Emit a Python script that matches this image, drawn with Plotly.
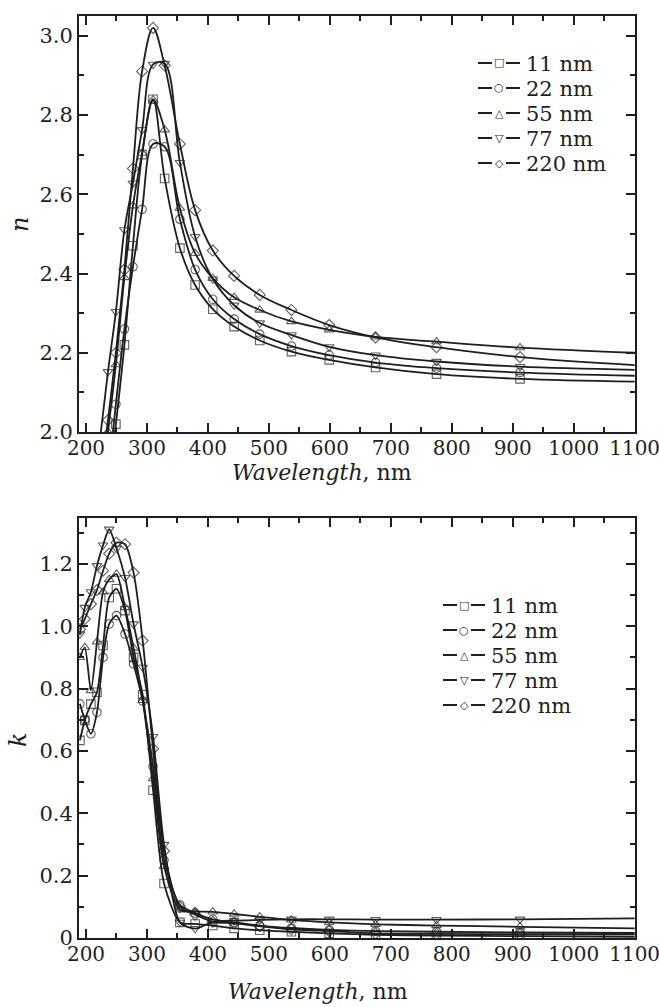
import plotly.graph_objects as go

# series labels and marker shapes
labels = ["11 nm", "22 nm", "55 nm", "77 nm", "220 nm"]
symbols = ["square-open", "circle-open", "triangle-up-open", "triangle-down-open", "diamond-open"]
legend_glyphs = ["□", "○", "△", "▽", "◇"]

# refractive index n vs wavelength (nm)
wl_n = [222, 236, 249, 263, 277, 292, 310, 329, 354, 379, 408, 443, 485, 537, 599, 675, 775, 912, 1100]
n_11 = [1.65, 1.85, 2.02, 2.22, 2.47, 2.70, 2.84, 2.64, 2.464, 2.371, 2.31, 2.266, 2.231, 2.203, 2.182, 2.163, 2.146, 2.134, 2.127]
n_22 = [1.70, 1.88, 2.07, 2.26, 2.417, 2.562, 2.727, 2.72, 2.537, 2.41, 2.335, 2.285, 2.247, 2.217, 2.194, 2.175, 2.161, 2.15, 2.142]
n_55 = [1.82, 2.00, 2.17, 2.39, 2.571, 2.704, 2.838, 2.763, 2.565, 2.451, 2.388, 2.34, 2.308, 2.279, 2.258, 2.24, 2.228, 2.213, 2.20]
n_77 = [1.97, 2.152, 2.304, 2.51, 2.628, 2.763, 2.928, 2.93, 2.68, 2.493, 2.386, 2.32, 2.275, 2.245, 2.215, 2.194, 2.178, 2.165, 2.157]
n_220 = [1.86, 2.03, 2.20, 2.41, 2.665, 2.91, 3.02, 2.925, 2.727, 2.56, 2.458, 2.394, 2.346, 2.308, 2.27, 2.239, 2.214, 2.189, 2.169]

# extinction coefficient k vs wavelength (nm), lower panel
wl_k = [190, 198, 208, 218, 228, 238, 250, 264, 278, 293, 310, 328, 354, 379, 408, 443, 485, 537, 599, 675, 775, 912, 1100]
k_11 = [0.634, 0.698, 0.75, 0.788, 0.938, 1.092, 1.12, 1.05, 0.90, 0.78, 0.474, 0.175, 0.05, 0.045, 0.04, 0.031, 0.025, 0.02, 0.015, 0.01, 0.008, 0.006, 0.004]
k_22 = [0.751, 0.70, 0.655, 0.724, 0.90, 1.007, 1.034, 0.975, 0.879, 0.76, 0.55, 0.25, 0.106, 0.08, 0.06, 0.05, 0.04, 0.032, 0.026, 0.022, 0.02, 0.018, 0.016]
k_55 = [0.90, 0.932, 0.794, 0.95, 1.11, 1.15, 1.167, 1.06, 0.93, 0.762, 0.511, 0.23, 0.09, 0.085, 0.084, 0.077, 0.068, 0.058, 0.05, 0.044, 0.04, 0.036, 0.031]
k_77 = [0.975, 1.06, 1.11, 1.194, 1.26, 1.311, 1.25, 1.156, 1.007, 0.868, 0.646, 0.30, 0.05, 0.03, 0.052, 0.056, 0.058, 0.06, 0.06, 0.059, 0.059, 0.06, 0.063]
k_220 = [0.99, 1.023, 1.071, 1.116, 1.178, 1.233, 1.268, 1.263, 1.172, 0.954, 0.607, 0.279, 0.10, 0.075, 0.052, 0.047, 0.038, 0.028, 0.022, 0.015, 0.013, 0.012, 0.012]

x_ticks = [200, 300, 400, 500, 600, 700, 800, 900, 1000, 1100]
n_ticks = [2.0, 2.2, 2.4, 2.6, 2.8, 3.0]
n_ticktext = ["2.0", "2.2", "2.4", "2.6", "2.8", "3.0"]
k_ticks = [0, 0.2, 0.4, 0.6, 0.8, 1.0, 1.2]
k_ticktext = ["0", "0.2", "0.4", "0.6", "0.8", "1.0", "1.2"]

FONT = "DejaVu Serif"
INK = "#1e1e1e"
x_range = [188.5, 1100.6]
n_range = [2.0, 3.05]
k_range = [0, 1.347]


def marker_sizes(wl, vals, lo):
    # last point only ends the line; points under the axis are hidden
    return [0 if (w == wl[-1] or v < lo) else 8.5 for w, v in zip(wl, vals)]


fig = go.Figure()

for lab, sym, vals in zip(labels, symbols, [n_11, n_22, n_55, n_77, n_220]):
    fig.add_trace(go.Scatter(
        x=wl_n, y=vals, name=lab, mode="lines+markers",
        line=dict(color=INK, width=1.8, shape="spline", smoothing=1.0),
        marker=dict(symbol=sym, size=marker_sizes(wl_n, vals, n_range[0]), color=INK,
                    line=dict(width=1.1, color=INK)),
        xaxis="x", yaxis="y", showlegend=False,
    ))

for lab, sym, vals in zip(labels, symbols, [k_11, k_22, k_55, k_77, k_220]):
    fig.add_trace(go.Scatter(
        x=wl_k, y=vals, name=lab, mode="lines+markers",
        line=dict(color=INK, width=1.8, shape="spline", smoothing=0.7),
        marker=dict(symbol=sym, size=marker_sizes(wl_k, vals, k_range[0] - 1), color=INK,
                    line=dict(width=1.1, color=INK)),
        xaxis="x2", yaxis="y2", showlegend=False,
    ))

axis_common = dict(
    showline=True, linecolor=INK, linewidth=2, mirror="allticks",
    ticks="inside", ticklen=9, tickwidth=1.5, tickcolor=INK,
    showgrid=False, zeroline=False, automargin=False,
    tickfont=dict(family=FONT, size=21, color=INK),
)
x_common = dict(axis_common, domain=[0, 1], range=x_range, tickvals=x_ticks,
                ticklabeloverflow="allow", ticklabelstandoff=-3,
                tickfont=dict(family=FONT, size=20, color=INK),
                minor=dict(dtick=50, ticks="inside", ticklen=5, tickcolor=INK))

fig.update_layout(
    template="none",
    width=659, height=1007,
    margin=dict(l=79, r=24, t=16, b=69),
    paper_bgcolor="white", plot_bgcolor="white",
    font=dict(family=FONT, color=INK),
    xaxis=dict(x_common, anchor="y"),
    yaxis=dict(axis_common, domain=[0.5488, 1], range=n_range, anchor="x",
               tickvals=n_ticks, ticktext=n_ticktext,
               minor=dict(tickvals=[2.1, 2.3, 2.5, 2.7, 2.9], ticks="inside", ticklen=5, tickcolor=INK)),
    xaxis2=dict(x_common, anchor="y2"),
    yaxis2=dict(axis_common, domain=[0, 0.4555], range=k_range, anchor="x2",
                tickvals=k_ticks, ticktext=k_ticktext,
                minor=dict(tickvals=[0.1, 0.3, 0.5, 0.7, 0.9, 1.1, 1.3], ticks="inside", ticklen=5, tickcolor=INK)),
)


def px_to_paper(px, py):
    return (px - 79) / 556, (938 - py) / 922


# axis titles
for tx, ty, txt, ang in [(322, 473, "<i>Wavelength</i>, nm", 0), (318, 991, "<i>Wavelength</i>, nm", 0),
                         (20, 225, "<i>n</i>", -90), (18, 740, "<i>k</i>", -90)]:
    ax_, ay_ = px_to_paper(tx, ty)
    fig.add_annotation(x=ax_, y=ay_, xref="paper", yref="paper", xanchor="center", yanchor="middle",
                       showarrow=False, text=txt, textangle=ang,
                       font=dict(family=FONT, size=22 if ang == 0 else 24, color=INK))

# legends: short line pieces + symbol glyph + label, one row per series
for x0, y0 in [(478, 63), (443, 605)]:
    for i, (lab, g) in enumerate(zip(labels, legend_glyphs)):
        yy = y0 + 25 * i
        for a, b in [(x0, x0 + 14), (x0 + 28, x0 + 42)]:
            xa, ya = px_to_paper(a, yy)
            xb, _ = px_to_paper(b, yy)
            fig.add_shape(type="line", xref="paper", yref="paper", x0=xa, x1=xb, y0=ya, y1=ya,
                          line=dict(color=INK, width=2))
        gx, gy = px_to_paper(x0 + 21, yy)
        fig.add_annotation(x=gx, y=gy, xref="paper", yref="paper", xanchor="center", yanchor="middle",
                           showarrow=False, text=g,
                           font=dict(family="DejaVu Sans", size=11, color=INK))
        tx, ty = px_to_paper(x0 + 46, yy + 1)
        fig.add_annotation(x=tx, y=ty, xref="paper", yref="paper", xanchor="left", yanchor="middle",
                           showarrow=False, text=lab,
                           font=dict(family=FONT, size=21, color=INK))

# the page body has a default 8px margin; drop it so the figure fills the window
fig.write_html("out.html", config={"displayModeBar": False},
               post_script="document.body.style.margin='0';")
